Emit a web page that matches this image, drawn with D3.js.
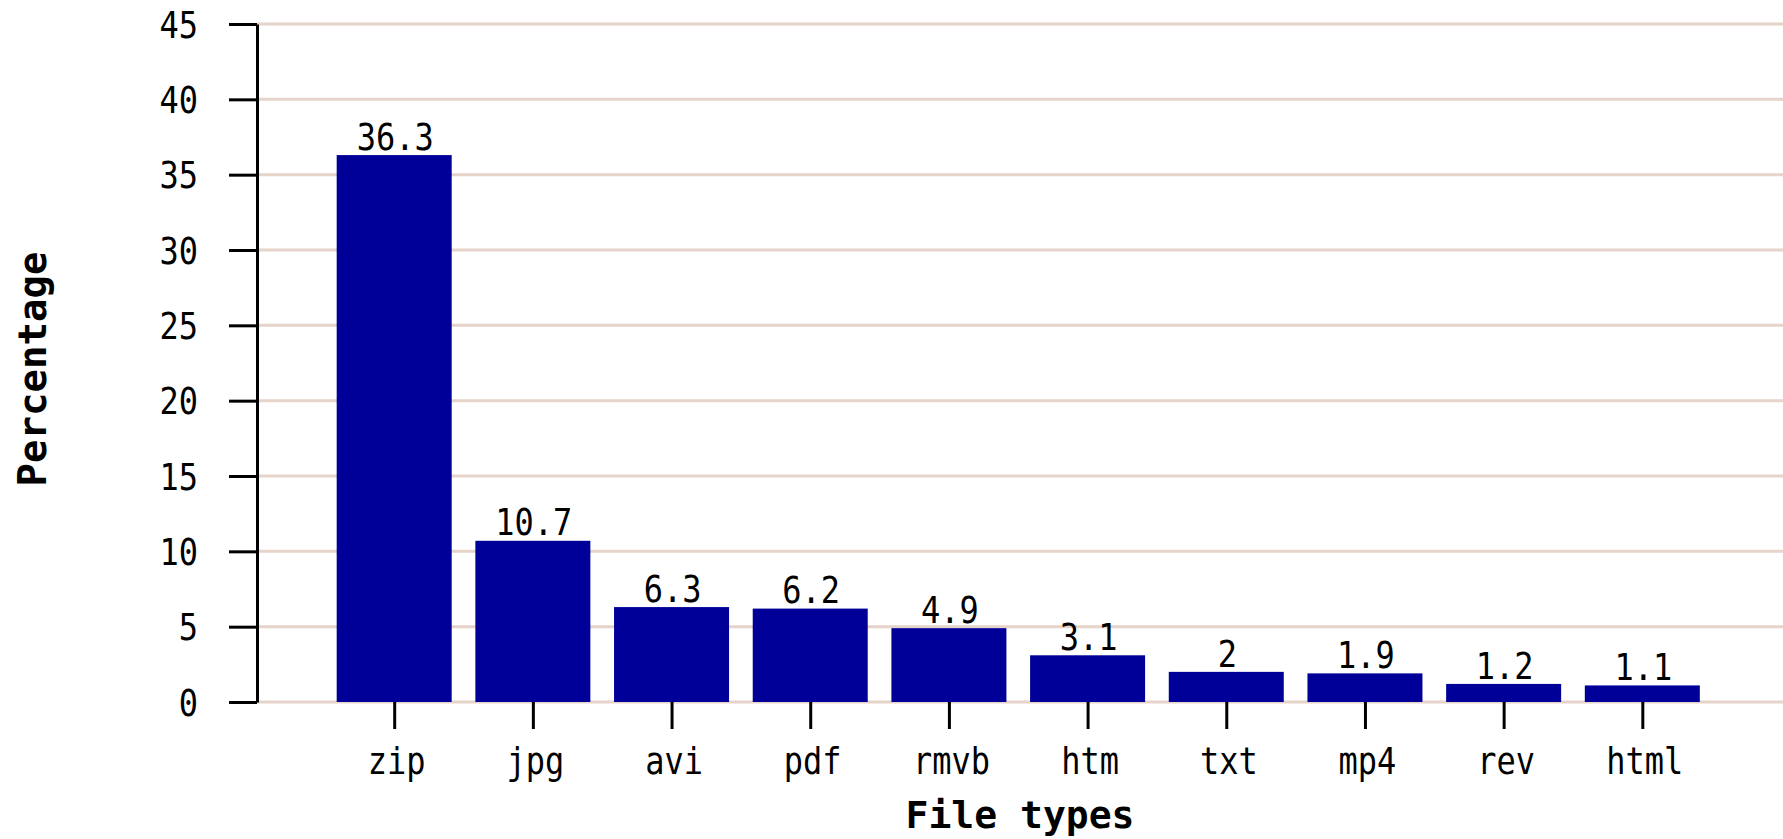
<!DOCTYPE html>
<html>
<head>
<meta charset="utf-8">
<script src="https://cdn.jsdelivr.net/npm/d3@7"></script>
<style>
  html, body { margin: 0; padding: 0; background: #fff; }
  svg { display: block; }
  .stretch { transform-box: fill-box; transform-origin: center; transform: scaleY(1.15); }
</style>
</head>
<body>
<svg id="chart" width="1783" height="839"></svg>
<script>
const categories = ["zip", "jpg", "avi", "pdf", "rmvb", "htm", "txt", "mp4", "rev", "html"];
const values = [36.3, 10.7, 6.3, 6.2, 4.9, 3.1, 2, 1.9, 1.2, 1.1];
const valueLabels = ["36.3", "10.7", "6.3", "6.2", "4.9", "3.1", "2", "1.9", "1.2", "1.1"];
const yTicks = [0, 5, 10, 15, 20, 25, 30, 35, 40, 45];
const xTitle = "File types";
const yTitle = "Percentage";

const W = 1783, H = 839;
const plotLeft = 257, plotTop = 24, plotBottom = 702;
const bandStart = 255.5, bandEnd = 1781;
const monoFont = "'DejaVu Sans Mono', 'Liberation Mono', monospace";

const svg = d3.select("#chart");

const x = d3.scalePoint().domain(categories).range([bandStart, bandEnd]).padding(1);
const y = d3.scaleLinear().domain([0, 45]).range([plotBottom, plotTop]);
const barW = 115;

// gridlines
svg.append("g")
  .selectAll("line")
  .data(yTicks)
  .join("line")
  .attr("x1", plotLeft).attr("x2", W)
  .attr("y1", d => y(d)).attr("y2", d => y(d))
  .attr("stroke", "#e6d3c9")
  .attr("stroke-width", 3);

// bars
svg.append("g")
  .selectAll("rect")
  .data(values)
  .join("rect")
  .attr("x", (d, i) => x(categories[i]) - barW / 2)
  .attr("width", barW)
  .attr("y", d => y(d))
  .attr("height", d => y(0) - y(d))
  .attr("fill", "#000099");

// value labels
svg.append("g")
  .selectAll("text")
  .data(values)
  .join("text")
  .attr("class", "stretch")
  .attr("x", (d, i) => x(categories[i]) + 1)
  .attr("y", d => y(d) - 7)
  .attr("text-anchor", "middle")
  .attr("font-family", monoFont)
  .attr("font-size", 32)
  .attr("fill", "#000")
  .text((d, i) => valueLabels[i]);

// y axis
const yAxis = svg.append("g")
  .attr("transform", `translate(${plotLeft},0)`)
  .call(d3.axisLeft(y).tickValues(yTicks).tickSize(28).tickPadding(31).tickSizeOuter(0));
yAxis.select(".domain").attr("stroke", "#000").attr("stroke-width", 3);
yAxis.selectAll(".tick line").attr("stroke", "#000").attr("stroke-width", 3);
yAxis.selectAll(".tick text")
  .attr("class", "stretch")
  .attr("font-family", monoFont)
  .attr("font-size", 32)
  .attr("fill", "#000")
  .attr("dy", "0.36em");

// x axis
const xAxis = svg.append("g")
  .attr("transform", `translate(0,${plotBottom})`)
  .call(d3.axisBottom(x).tickSize(27).tickSizeOuter(0));
xAxis.select(".domain").remove();
xAxis.selectAll(".tick line").attr("stroke", "#000").attr("stroke-width", 3);
xAxis.selectAll(".tick text")
  .attr("class", "stretch")
  .attr("font-family", monoFont)
  .attr("font-size", 32)
  .attr("fill", "#000")
  .attr("x", 2)
  .attr("y", 70)
  .attr("dy", 0);

// axis titles
svg.append("text")
  .attr("x", 1020)
  .attr("y", 828)
  .attr("text-anchor", "middle")
  .attr("font-family", monoFont)
  .attr("font-weight", "bold")
  .attr("font-size", 38)
  .attr("fill", "#000")
  .text(xTitle);

svg.append("text")
  .attr("transform", "translate(46,369) rotate(-90)")
  .attr("text-anchor", "middle")
  .attr("font-family", monoFont)
  .attr("font-weight", "bold")
  .attr("font-size", 39)
  .attr("fill", "#000")
  .text(yTitle);
</script>
</body>
</html>
